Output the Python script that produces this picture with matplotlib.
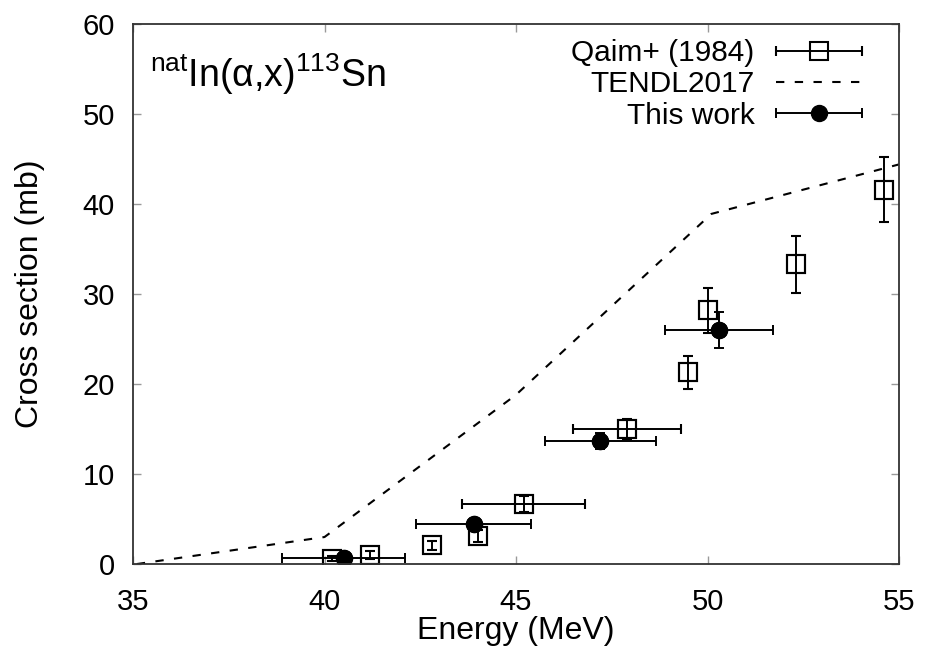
import numpy as np
import matplotlib
matplotlib.use("Agg")
import matplotlib.pyplot as plt
from matplotlib.legend_handler import HandlerErrorbar

# ---- data ----
# Qaim+ (1984)
qaim_e = [40.2, 41.2, 42.8, 44.0, 45.2, 47.9, 49.5, 50.0, 52.3, 54.6]
qaim_xs = [0.6, 1.0, 2.1, 3.1, 6.7, 15.0, 21.3, 28.2, 33.3, 41.6]
qaim_dxs = [0.3, 0.4, 0.5, 0.7, 0.9, 1.1, 1.8, 2.5, 3.2, 3.6]
qaim_de = [np.nan, np.nan, np.nan, np.nan, 1.6, 1.4, np.nan, np.nan, np.nan, np.nan]

# TENDL2017
tendl_e = [35.1, 40.0, 45.0, 50.1, 55.0]
tendl_xs = [0.0, 3.0, 18.8, 38.9, 44.4]

# This work
work_e = [40.5, 43.9, 47.2, 50.3]
work_xs = [0.7, 4.4, 13.7, 26.0]
work_de = [1.6, 1.5, 1.45, 1.4]
work_dxs = [0.2, 0.4, 0.9, 2.0]

plt.rcParams['font.family'] = ['Liberation Sans', 'DejaVu Sans']
plt.rcParams['mathtext.fontset'] = 'custom'
plt.rcParams['mathtext.rm'] = 'Liberation Sans'
plt.rcParams['mathtext.it'] = 'Liberation Sans:italic'

fig = plt.figure(figsize=(9.25, 6.61), dpi=100)
ax = fig.add_axes([0.1438, 0.1467, 0.9719 - 0.1438, 0.9637 - 0.1467])

eb = dict(color="black", elinewidth=1.4, capsize=3.5, capthick=1.4, linestyle="none")
sq = dict(marker="s", markersize=13, markerfacecolor="none",
          markeredgecolor="black", markeredgewidth=1.5)
dot = dict(marker="o", markersize=11.5, markerfacecolor="black", markeredgecolor="black")

# vertical bars without legend entry, horizontal bars carry the legend entry
ax.errorbar(qaim_e, qaim_xs, yerr=qaim_dxs, **sq, **eb)
h_qaim = ax.errorbar(qaim_e, qaim_xs, xerr=qaim_de, label="Qaim+ (1984)", **sq, **eb)

h_tendl, = ax.plot(tendl_e, tendl_xs, color="black", linewidth=1.5, dashes=(4, 5),
                   label="TENDL2017")

ax.errorbar(work_e, work_xs, yerr=work_dxs, **dot, **eb)
h_work = ax.errorbar(work_e, work_xs, xerr=work_de, label="This work", **dot, **eb)

ax.set_xlim(35, 55)
ax.set_ylim(0, 60)
ax.set_xticks([35, 40, 45, 50, 55])
ax.set_yticks([0, 10, 20, 30, 40, 50, 60])
ax.tick_params(direction="in", length=6, width=1, color="#999999",
               top=True, right=True, labelsize=21, labelcolor="black")
ax.tick_params(axis="x", pad=17)
ax.tick_params(axis="y", pad=13)
for sp in ax.spines.values():
    sp.set_color("#333333")
    sp.set_linewidth(1.3)

ax.set_xlabel("Energy (MeV)", fontsize=23, labelpad=0)
ax.set_ylabel("Cross section (mb)", fontsize=23, labelpad=27)

ax.text(0.022, 0.883, r"$^{\mathrm{nat}}$In(α,x)$^{\mathrm{113}}$Sn", transform=ax.transAxes,
        fontsize=27, ha="left", va="baseline")

ax.legend([h_qaim, h_tendl, h_work], ["Qaim+ (1984)", "TENDL2017", "This work"],
          loc="upper right", frameon=False, markerfirst=False, numpoints=1,
          fontsize=21.5, handlelength=2.9, handletextpad=0.7, labelspacing=0.11,
          borderaxespad=0, borderpad=0, bbox_to_anchor=(0.952, 0.972),
          handler_map={type(h_qaim): HandlerErrorbar(xerr_size=1.45)})

plt.savefig("out.png", dpi=100)
